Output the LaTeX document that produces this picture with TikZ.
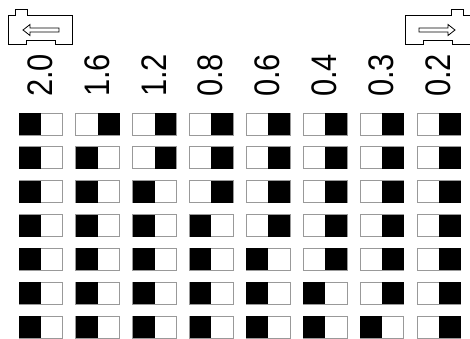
\documentclass[tikz,border=0pt]{standalone}
\usepackage{fontspec}
\newfontfamily\labelfont[FakeStretch=0.87]{Liberation Sans}

\tikzset{
  plug/.pic={
    \draw[line width=0.9pt] (0,15) -- (7,15) -- (7,9) -- (19,9) -- (19,15) -- (64.7,15) -- (64.7,44)
      -- (47,44) -- (47,40.5) -- (18,40.5) -- (18,44) -- (0,44) -- cycle;
    \draw[line width=0.8pt] (51,28) -- (22,28) -- (22,24.5) -- (15,30) -- (22,35.5) -- (22,32) -- (51,32) -- cycle;
  }
}

\begin{document}
\begin{tikzpicture}[x=1pt, y=-1pt,
  sw/.style={draw=black!40, line width=1pt, minimum width=43.7pt, minimum height=22pt, inner sep=0pt, outer sep=0pt},
  lbl/.style={rotate=90, anchor=base, inner sep=0pt, font=\labelfont\fontsize{35.5}{36}\selectfont}]
  \useasboundingbox (0,0) rectangle (470,338);

  % direction icons
  \pic at (8,0) {plug};
  \pic[xscale=-1] at (470,0) {plug};

  % values
  \foreach \lab [count=\c from 0] in {2.0,1.6,1.2,0.8,0.6,0.4,0.3,0.2}
    \node[lbl] (v\c) at ({52.3+56.86*\c},75.5) {\lab};

  % switch positions
  \foreach \r in {0,...,6}
    \foreach \c in {0,...,7} {
      \node[sw] (s\r\c) at ({40.85+56.86*\c},{124+33.85*\r}) {};
      \ifnum\c>\r
        \fill (s\r\c.north) rectangle (s\r\c.south east);
      \else
        \fill (s\r\c.north west) rectangle (s\r\c.south);
      \fi
    }
\end{tikzpicture}
\end{document}
